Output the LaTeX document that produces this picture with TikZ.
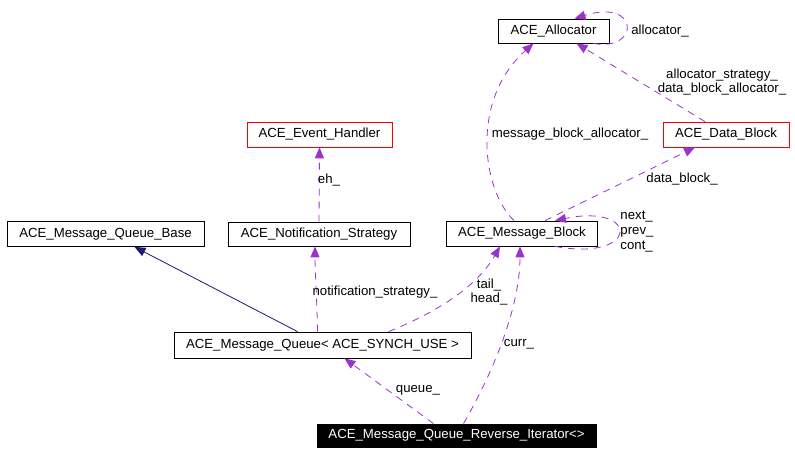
\documentclass[tikz,border=0pt]{standalone}
\usepackage{fontspec}
\setmainfont{Liberation Sans}
\usetikzlibrary{arrows.meta,calc}
\definecolor{edgepurple}{RGB}{154,50,205}
\definecolor{edgenavy}{RGB}{25,25,112}
\begin{document}
\begin{tikzpicture}[x=1bp,y=-1bp,
  box/.style={draw=black,line width=0.8bp,fill=white,inner sep=0pt,font=\fontsize{13.2bp}{15bp}\selectfont},
  redbox/.style={box,draw=red},
  darkbox/.style={box,fill=black,text=white},
  dep/.style={draw=edgepurple,line width=0.8bp,dash pattern=on 7bp off 6bp,-{Triangle[length=11bp,width=9bp]}},
  inh/.style={draw=edgenavy,line width=0.8bp,-{Triangle[length=11bp,width=9bp]}},
  lbl/.style={font=\fontsize{13.2bp}{14bp}\selectfont,inner sep=0pt,align=center}
]
\useasboundingbox (0,0) rectangle (795,455);
% nodes
\node[box,minimum width=111bp,minimum height=24bp] (alloc) at (553.5,31) {ACE\_Allocator};
\node[redbox,minimum width=126bp,minimum height=25bp] (datab) at (726,134.5) {ACE\_Data\_Block};
\node[redbox,minimum width=145bp,minimum height=25bp] (evh) at (319.5,134.5) {ACE\_Event\_Handler};
\node[box,minimum width=197bp,minimum height=25bp] (mqb) at (105.5,234) {ACE\_Message\_Queue\_Base};
\node[box,minimum width=182bp,minimum height=24bp] (ns) at (319,234) {ACE\_Notification\_Strategy};
\node[box,minimum width=151bp,minimum height=25bp] (mb) at (522,233.5) {ACE\_Message\_Block};
\node[box,minimum width=297bp,minimum height=26bp] (mq) at (322.5,345) {ACE\_Message\_Queue< ACE\_SYNCH\_USE >};
\node[darkbox,minimum width=279bp,minimum height=23bp] (rit) at (456.5,435.5) {ACE\_Message\_Queue\_Reverse\_Iterator<>};
% edges
\draw[dep] ($(alloc.south)+(40,0)$) .. controls (640,52) and (640,-2) .. ($(alloc.north)+(21,0)$);
\draw[dep] ($(datab.north)+(-21,0)$) -- ($(alloc.south)+(23,0)$);
\draw[dep] ($(mb.north)+(-8,0)$) .. controls (482,190) and (470,100) .. ($(alloc.south)+(-20,0)$);
\draw[dep] ($(mb.north)+(23,0)$) -- ($(datab.south)+(-31,0)$);
\draw[dep] ($(mb.south)+(33,0)$) .. controls (640,262) and (640,203) .. ($(mb.north)+(33,0)$);
\draw[dep] (ns.north) -- (evh.south);
\draw[inh] ($(mq.north)+(-25,0)$) -- ($(mqb.south)+(29,0)$);
\draw[dep] ($(mq.north)+(-5,0)$) .. controls (317,300) and (315,270) .. ($(ns.south)+(-4,0)$);
\draw[dep] ($(mq.north)+(66,0)$) .. controls (430,315) and (475,290) .. ($(mb.south)+(-22,0)$);
\draw[dep] ($(rit.north)+(7,0)$) .. controls (500,360) and (520,300) .. ($(mb.south)+(-2,0)$);
\draw[dep] ($(rit.north)+(-23,0)$) -- ($(mq.south)+(22,0)$);
% labels
\node[lbl] (l1) at (660,31) {allocator\_};
\node[lbl] (l2) at (722,82.5) {allocator\_strategy\_\\data\_block\_allocator\_};
\node[lbl] (l3) at (570,134) {message\_block\_allocator\_};
\node[lbl] (l4) at (682,179) {data\_block\_};
\node[lbl,align=left,font=\fontsize{13.2bp}{15bp}\selectfont] (l5) at (637,232) {next\_\\prev\_\\cont\_};
\node[lbl] (l6) at (329,180) {eh\_};
\node[lbl] (l7) at (375,292) {notification\_strategy\_};
\node[lbl] (l8) at (489,292.5) {tail\_\\head\_};
\node[lbl] (l9) at (519,344) {curr\_};
\node[lbl] (l10) at (418,390) {queue\_};
\end{tikzpicture}
\end{document}
